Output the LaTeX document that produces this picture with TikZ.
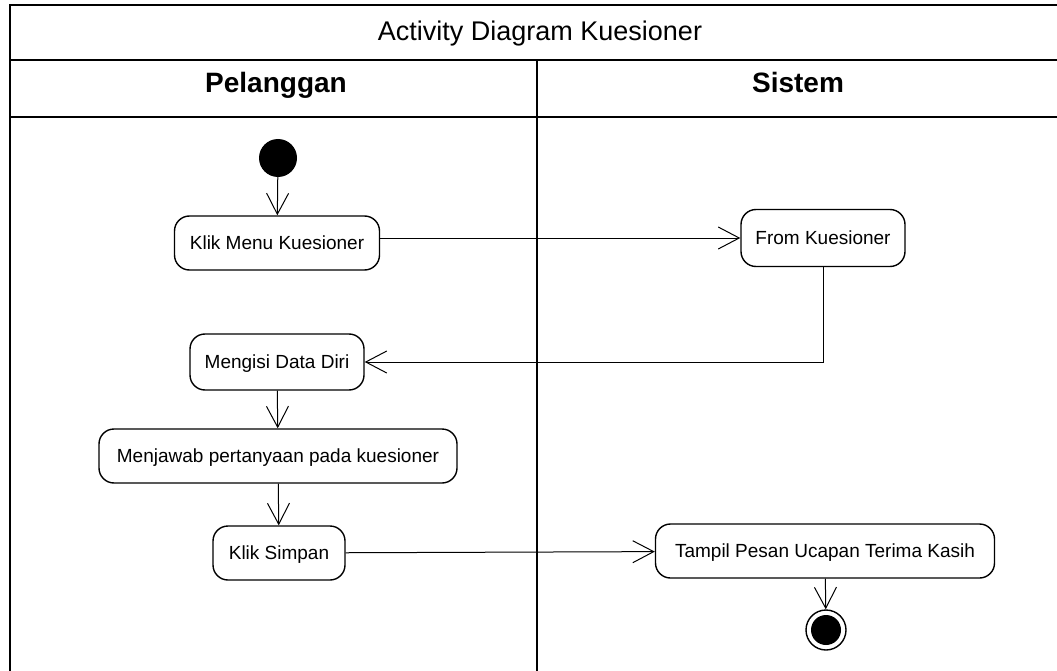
\documentclass[tikz,border=0pt]{standalone}
\usepackage{fontspec}
\setmainfont{Liberation Sans}
\usetikzlibrary{arrows.meta}

\tikzset{
  act/.style={draw, rounded corners=15pt, line width=1.4pt, minimum height=54pt, inner sep=0pt, text height=14pt, text depth=0.5pt, font=\fontsize{19}{22}\selectfont},
  flow/.style={draw, line width=1pt, -{Straight Barb[length=21pt,width=22pt,line width=1pt]}},
  lane/.style={line width=2pt},
  lanetitle/.style={anchor=base, font=\bfseries\fontsize{28}{30}\selectfont},
}

\begin{document}
\begin{tikzpicture}[x=1pt,y=-1pt]
\useasboundingbox (0,0) rectangle (1057,671);
% swimlane frame
\draw[lane] (1057,5) -- (10,5) -- (10,671);
\draw[lane] (10,60) -- (1057,60);
\draw[lane] (10,117) -- (1057,117);
\draw[lane] (537,60) -- (537,671);
\node[anchor=base, font=\fontsize{27}{30}\selectfont] (judul) at (540,41) {Activity Diagram Kuesioner};
\node[lanetitle] (pelanggan) at (276,93) {Pelanggan};
\node[lanetitle] (sistem) at (798,93) {Sistem};

% activities
\node[fill, circle, minimum size=38pt, inner sep=0pt] (mulai) at (278,158) {};
\node[act, minimum width=205pt] (klikmenu) at (277,243) {Klik Menu Kuesioner};
\node[act, minimum width=164pt, minimum height=57pt] (formkues) at (823,238) {From Kuesioner};
\node[act, minimum width=174pt, minimum height=56pt] (mengisi) at (277,362) {Mengisi Data Diri};
\node[act, minimum width=358pt] (menjawab) at (278,456) {Menjawab pertanyaan pada kuesioner};
\node[act, minimum width=132pt] (klikspn) at (279,553) {Klik Simpan};
\node[act, minimum width=339pt] (tampil) at (825,551) {Tampil Pesan Ucapan Terima Kasih};
\node[draw, circle, line width=1.4pt, minimum size=40pt, inner sep=0pt] (selesai) at (826,630) {};
\fill (selesai.center) circle (15pt);

% transitions
\draw[flow] (mulai) -- (klikmenu);
\draw[flow] (klikmenu.east |- formkues) -- (formkues.west);
\draw[flow] (formkues.south) |- (mengisi.east);
\draw[flow] (mengisi) -- (menjawab);
\draw[flow] (menjawab) -- (klikspn);
\draw[flow] (klikspn) -- (tampil);
\draw[flow] (tampil) -- (selesai);
\end{tikzpicture}
\end{document}
